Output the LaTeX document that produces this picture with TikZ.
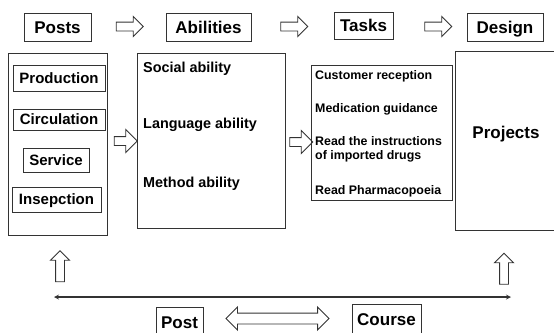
\documentclass[tikz,border=0pt]{standalone}
\usepackage{fontspec}
\setmainfont{Liberation Sans}
\usetikzlibrary{shapes.arrows}

\begin{document}
\begin{tikzpicture}[x=1pt, y=-1pt,
  hbox/.style={draw=black!80, line width=1pt, inner sep=0pt, text height=12pt,
               text depth=0pt, font=\fontsize{17}{20}\selectfont\bfseries},
  itembox/.style={draw=black!80, line width=1pt, inner sep=0pt, text height=10.7pt,
               text depth=0pt, font=\fontsize{15}{18}\selectfont\bfseries},
  frame/.style={draw=black!80, line width=1pt, inner sep=0pt},
  abil/.style={anchor=base west, inner sep=0pt, font=\fontsize{14.4}{17}\selectfont\bfseries},
  task/.style={anchor=base west, inner sep=0pt, align=left,
               font=\fontsize{12.4}{13.4}\selectfont\bfseries},
  harr/.style={single arrow, draw=black!80, line width=0.9pt, inner xsep=0pt, inner ysep=4pt,
               single arrow head extend=5.5pt, single arrow head indent=0pt,
               minimum height=27pt, minimum width=0pt},
  sarr/.style={harr, single arrow head extend=7pt, minimum height=23pt},
  uarr/.style={harr, rotate=90, single arrow head extend=5pt, minimum height=31pt},
  darr/.style={double arrow, draw=black!80, line width=0.9pt, inner xsep=0pt, inner ysep=5pt,
               double arrow head extend=6pt, double arrow head indent=0pt,
               minimum height=103pt, minimum width=0pt},
  arr/.style={<->, >=stealth, line width=1.2pt, draw=black!80}
]
\useasboundingbox (0,0) rectangle (554,332);
% Header row
\node[hbox, minimum width=67pt, minimum height=28pt] (posts) at (57.5,27) {Posts};
\node[hbox, minimum width=85pt, minimum height=28pt] (abilities) at (208.5,27) {Abilities};
\node[hbox, minimum width=59pt, minimum height=27pt] (tasks) at (363.5,25.5) {Tasks};
\node[hbox, minimum width=76pt, minimum height=28pt] (design) at (505,27) {Design};
\node[harr] (a1) at (127.5,26.5) {};
\node[harr] (a2) at (292,26.5) {};
\node[harr] (a3) at (436,26.5) {};

% Posts frame
\node[frame, minimum width=99pt, minimum height=182pt] (postsframe) at (57.5,144) {};
\node[itembox, minimum width=92pt, minimum height=26pt] (production) at (59,78) {Production};
\node[itembox, minimum width=92pt, minimum height=21pt] (circulation) at (59,119.5) {Circulation};
\node[itembox, minimum width=66pt, minimum height=24pt] (service) at (56,160) {Service};
\node[itembox, minimum width=89pt, minimum height=25pt] (insepction) at (56.5,199.5) {Insepction};

% Abilities frame
\node[frame, minimum width=148pt, minimum height=175pt] (abilframe) at (211,140.5) {};
\node[abil] (social) at (143,72) {Social ability};
\node[abil] (language) at (143,128.5) {Language ability};
\node[abil] (method) at (143,187.5) {Method ability};

% Tasks frame
\node[frame, minimum width=141pt, minimum height=135pt] (taskframe) at (381.5,132.5) {};
\node[task] (reception) at (315,79.6) {Customer reception};
\node[task] (guidance) at (315,112.2) {Medication guidance};
\node[task, anchor=north west] (instructions) at (315,136.6) {Read the instructions\\of imported drugs};
\node[task] (pharma) at (315,194) {Read Pharmacopoeia};

% Projects frame
\node[frame, minimum width=103pt, minimum height=179pt] (projframe) at (506.5,140.5) {};
\node[font=\fontsize{17}{20}\selectfont\bfseries] (projects) at (506,134) {Projects};

\node[sarr] (a4) at (123.5,141) {};
\node[sarr] (a5) at (299,142) {};

% Bottom
\node[uarr] (a6) at (60,268.5) {};
\node[uarr] (a7) at (504,271) {};
\coordinate (lineL) at (54,297);
\coordinate (lineR) at (511,297);
\draw[arr] (lineL) -- (lineR);
\node[hbox, anchor=north, minimum width=47pt, text height=21pt, text depth=20pt] (post) at (179.5,307) {Post};
\node[hbox, anchor=north, minimum width=69pt, text height=21pt, text depth=20pt] (course) at (386.5,304) {Course};
\node[darr] (a8) at (277.5,318.5) {};
\end{tikzpicture}
\end{document}
